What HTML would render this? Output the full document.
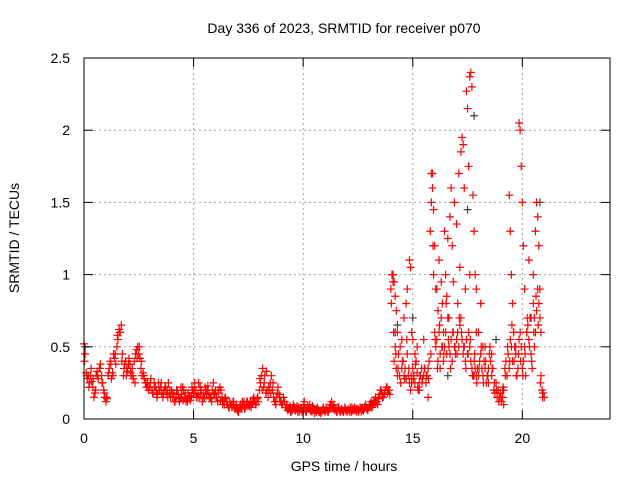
<!DOCTYPE html>
<html><head><meta charset="utf-8"><style>
body{margin:0;background:#fff}
svg text{font-family:"Liberation Sans",sans-serif;font-size:14px;fill:#000}
</style></head><body>
<svg id="chart" width="640" height="480" xmlns="http://www.w3.org/2000/svg">
<rect width="640" height="480" fill="#fff"/>
<g id="grid"></g>
<g id="marks"></g>
<rect x="84" y="58" width="526" height="361" fill="none" stroke="#000" stroke-width="1"/>
<g id="ticks"></g>
<text x="344" y="33" text-anchor="middle">Day 336 of 2023, SRMTID for receiver p070</text>
<text x="344" y="471" text-anchor="middle">GPS time / hours</text>
<text transform="translate(19,238) rotate(-90)" text-anchor="middle">SRMTID / TECUs</text>
</svg>
<script>
const xTicks=[0,5,10,15,20];
const yTicks=[0,0.5,1,1.5,2,2.5];
const yTickLabels=["0","0.5","1","1.5","2","2.5"];
const baseStart=0, baseStep=0.05;
const baseVals=[
.52,.45,.32,.28,.3,.25,.3,.26,.22,.15,.18,.3,.33,.28,.35,.38,.3,.25,.2,.15,
.12,.14,.3,.35,.4,.28,.32,.45,.42,.38,.5,.55,.62,.6,.65,.45,.3,.38,.4,.35,
.33,.42,.38,.3,.35,.28,.4,.45,.48,.5,.45,.42,.35,.3,.32,.28,.25,.22,.25,.2,
.22,.28,.2,.18,.25,.22,.2,.17,.25,.2,.22,.18,.15,.2,.22,.17,.2,.25,.18,.15,
.2,.15,.18,.12,.15,.2,.17,.12,.14,.17,.22,.2,.15,.12,.14,.18,.15,.13,.16,.2,
.18,.25,.2,.15,.17,.15,.22,.2,.12,.18,.15,.2,.17,.23,.18,.15,.14,.2,.25,.18,
.2,.15,.12,.18,.22,.2,.15,.12,.1,.15,.12,.1,.08,.12,.1,.08,.12,.09,.07,.1,
.06,.05,.08,.1,.07,.1,.12,.08,.1,.12,.1,.09,.12,.1,.11,.15,.12,.1,.14,.12,
.2,.25,.3,.35,.22,.3,.18,.2,.15,.2,.25,.3,.2,.15,.12,.1,.15,.22,.17,.12,
.12,.1,.15,.12,.08,.1,.06,.07,.09,.05,.06,.1,.08,.06,.07,.05,.08,.06,.07,.05,
.08,.12,.06,.05,.09,.07,.1,.06,.05,.08,.07,.06,.05,.08,.06,.05,.04,.05,.07,.06,
.05,.08,.06,.05,.07,.1,.12,.08,.1,.06,.07,.05,.08,.06,.05,.07,.06,.05,.08,.06,
.05,.07,.06,.08,.05,.06,.07,.08,.06,.05,.07,.06,.08,.05,.07,.06,.08,.1,.07,.06,
.08,.1,.12,.08,.1,.12,.15,.12,.1,.15,.17,.2,.18,.15,.17,.2,.22,.18,.2,.17,
.9,1.0,.95,.4,.5,.35,.3,.45,.3,.25,.35,.4,.3,.35,.28,.45,.3,.25,.2,.25,
.35,.3,.25,.4,.32,.2,.25,.3,.35,.28,.3,.35,.25,.3,.35,.4,1.3,1.5,1.7,1.0,
.6,.5,.55,.4,.6,.45,.7,.5,.4,.5,.6,.45,.7,.5,.45,.55,.4,.6,.5,.45,
.55,.6,.5,.65,.7,.55,.45,.5,.4,.55,.45,.6,.5,.4,.35,.3,.4,.35,.3,.35,
.3,.4,.45,.35,.3,.4,.35,.25,.3,.35,.45,.4,.3,.35,.2,.18,.25,.15,.2,.15,
.18,.12,.15,.2,.35,.4,.3,.45,.35,.55,.5,.4,.6,.5,.45,.3,.35,.55,.6,.5,
.35,.4,.5,.3,.6,.65,.55,.7,.45,.35,.8,.7,.6,.75,.9,.8,.7,.6,.2,.18,.15];
const base2Start=0.025, base2Step=0.1;
const base2Vals=[
.4,.3,.22,.35,.28,.2,.3,.35,.25,.18,
.15,.32,.38,.3,.45,.58,.6,.4,.35,.3,
.38,.32,.3,.25,.42,.5,.4,.3,.25,.22,
.25,.18,.22,.15,.2,.25,.18,.22,.15,.2,
.18,.12,.2,.15,.22,.13,.18,.12,.16,.22,
.2,.15,.25,.18,.14,.22,.2,.15,.12,.17,
.15,.2,.13,.1,.14,.1,.08,.1,.12,.08,
.05,.09,.12,.07,.12,.1,.08,.14,.1,.15,
.28,.2,.25,.33,.22,.18,.25,.12,.18,.15,
.1,.12,.08,.07,.05,.08,.06,.09,.05,.07,
.1,.05,.08,.06,.09,.04,.07,.05,.06,.08,
.06,.05,.1,.09,.07,.05,.08,.06,.05,.07,
.06,.05,.08,.06,.07,.05,.08,.06,.09,.07,
.1,.09,.13,.11,.14,.2,.15,.18,.22,.2,
.8,.6,.45,.35,.5,.4,.28,.55,.35,.3,
.28,.38,.22,.3,.25,.35,.3,.28,.45,1.2,
.55,.35,.65,.5,.45,.8,.55,.35,.6,.5,
.45,.7,.6,.5,.35,.45,.55,.3,.45,.25,
.35,.5,.25,.4,.3,.5,.35,.25,.2,.12,
.15,.22,.3,.5,.4,.65,.4,.3,.45,.4,
.3,.45,.7,.5,.4,.6,.85,.65,.25,.15];
const highTimes=[14.1,14.15,14.2,14.25,14.6,14.75,14.85,14.9,14.95,15.0,15.2,15.85,15.9,15.95,16.0,16.1,16.2,16.3,16.35,16.45,16.5,16.6,16.7,16.75,16.8,16.9,17.0,17.1,17.2,17.25,17.3,17.35,17.45,17.5,17.55,17.6,17.65,17.7,17.75,17.8,17.85,17.9,18.0,18.1,18.2,19.4,19.45,19.5,19.55,19.85,19.9,19.95,20.0,20.05,20.1,20.3,20.5,20.6,20.65,20.7,20.75,20.8];
const highVals=[1.0,.95,.85,.75,.7,.9,1.1,1.05,.6,.55,.5,1.7,1.6,1.45,1.2,.9,1.1,.95,.8,1.3,1.0,1.25,1.4,1.6,1.2,1.5,1.35,1.7,1.85,1.95,1.9,1.6,2.27,2.15,1.75,2.37,2.4,2.3,1.55,1.3,1.0,.9,.6,.8,.5,1.55,1.3,1.0,.8,2.05,2.0,1.75,1.5,1.2,.9,1.1,1.0,1.3,1.5,1.4,1.2,.9];
const midTimes=[14.3,14.5,14.7,15.1,15.5,16.05,16.15,16.4,16.55,16.65,16.85,17.05,17.15,17.4,17.6,17.9,18.3,18.6,19.6,19.7,20.2,20.4,20.55,20.85,15.3,15.7,16.25,17.8,18.45,19.15];
const midVals=[.6,.55,.8,.45,.55,.9,.75,.6,.85,.7,.95,.8,1.05,.9,1.0,.6,.5,.45,.6,.5,.6,.7,.5,.3,.2,.15,.35,.3,.25,.1];
const grayTimes=[0.05,14.2,14.3,15.0,17.5,17.8,19.1,20.8,16.6,18.8];
const grayVals=[.5,.6,.65,.7,1.45,2.1,.2,1.5,.3,.55];

const X=v=>84+v*(526/24), Y=v=>419-v*(361/2.5);
const NS="http://www.w3.org/2000/svg";
function mk(tag,attrs,parent){const e=document.createElementNS(NS,tag);for(const k in attrs)e.setAttribute(k,attrs[k]);parent.appendChild(e);return e;}
const grid=document.getElementById('grid'),ticks=document.getElementById('ticks'),marks=document.getElementById('marks');
xTicks.forEach(t=>{const x=X(t);
 if(t>0){const g=mk('line',{x1:x,x2:x,y1:58,y2:419,stroke:'#a0a0a0','stroke-dasharray':'2,3'},grid);
 
 }
 mk('line',{x1:x,x2:x,y1:419,y2:410,stroke:'#000'},ticks);
 mk('line',{x1:x,x2:x,y1:58,y2:67,stroke:'#000'},ticks);
 const tx=mk('text',{x:x,y:443,'text-anchor':'middle'},ticks);tx.textContent=t;
 
 
});
yTicks.forEach((t,i)=>{const y=Y(t);
 if(t>0&&t<2.5){const g=mk('line',{x1:84,x2:610,y1:y,y2:y,stroke:'#a0a0a0','stroke-dasharray':'2,3'},grid);
 
 }
 mk('line',{x1:84,x2:93,y1:y,y2:y,stroke:'#000'},ticks);
 mk('line',{x1:601,x2:610,y1:y,y2:y,stroke:'#000'},ticks);
 const tx=mk('text',{x:70,y:y+5,'text-anchor':'end'},ticks);tx.textContent=yTickLabels[i];
 
 
});
function plus(t,v,color,name){const x=X(t),y=Y(v);
 const p=mk('path',{d:`M${x-4},${y}h8M${x},${y-4}v8`,stroke:color,'stroke-width':1.2,fill:'none'},marks);
 
 }
grayTimes.forEach((t,i)=>plus(t,grayVals[i],'#404040','gray-point'));
baseVals.forEach((v,i)=>plus(baseStart+i*baseStep,v,'#ff0000','red-point'));
base2Vals.forEach((v,i)=>plus(base2Start+i*base2Step,v,'#ff0000','red-point'));
highTimes.forEach((t,i)=>plus(t,highVals[i],'#ff0000','red-point'));
midTimes.forEach((t,i)=>plus(t,midVals[i],'#ff0000','red-point'));
</script>
</body></html>
